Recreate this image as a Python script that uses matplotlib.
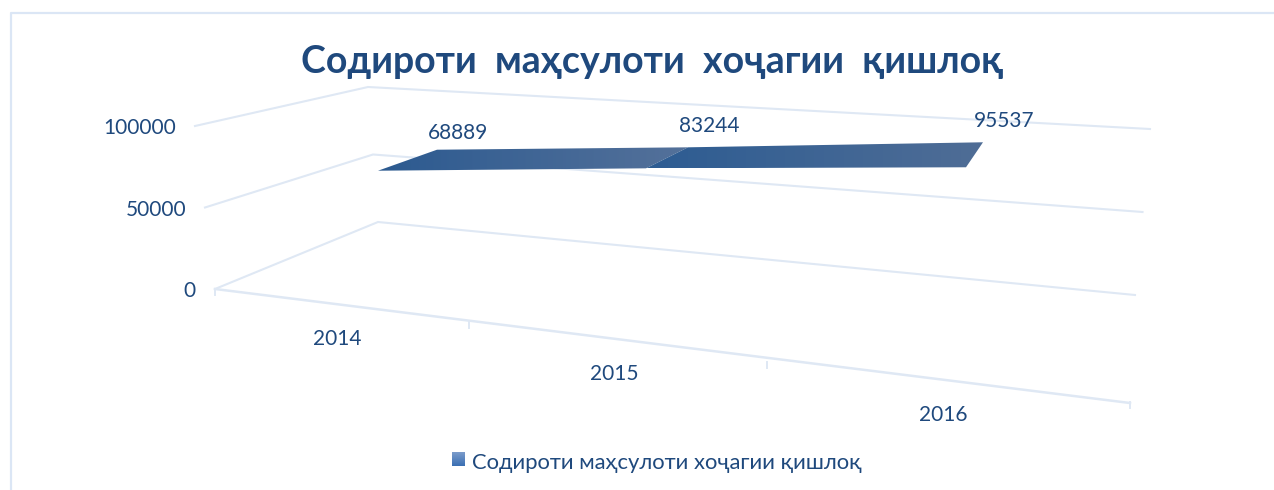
import matplotlib

matplotlib.use("Agg")
import matplotlib.pyplot as plt
import numpy as np
from matplotlib.patches import Polygon

plt.rcParams["font.family"] = ["Lato", "Open Sans", "DejaVu Sans"]

TITLE = "Содироти  маҳсулоти  хоҷагии  қишлоқ"
LEGEND = "Содироти маҳсулоти хоҷагии қишлоқ"
YEARS = ["2014", "2015", "2016"]
VALUES = [68889, 83244, 95537]
Y_TICKS = [0, 50000, 100000]

TEXT_COL = "#1f497d"
GRID_COL = "#dfe8f4"

# fake 3-d projection, pixels
SCALE = 163 / 100000
RIB_X = [378, 646, 966]       # front edge of the ribbon per category
RIB_FLOOR = [283, 304, 323]   # where value 0 would land
RIB_BACK = [(59, -21), (42, -21), (17, -25)]  # depth offset of the back edge
LABEL_LIFT = [17, 21, 21]     # data labels above the back edge


def wall(v):
    """Gridline for value v: front-left, back-left, right end."""
    f = v / 100000
    return [(215 - 20 * f, 289 - 163 * f),
            (378 - 10 * f, 222 - 135 * f),
            (1135 + 15 * f, 295 - 166 * f)]


def ribbon(i):
    x0, y0 = RIB_X[i], RIB_FLOOR[i] - VALUES[i] * SCALE
    dx, dy = RIB_BACK[i]
    return (x0, y0), (x0 + dx, y0 + dy)


def gradient_poly(ax, pts, c0, c1, horizontal=True):
    """Polygon filled with a two-colour ramp."""
    pts = np.array(pts)
    c0 = np.array(matplotlib.colors.to_rgb(c0))
    c1 = np.array(matplotlib.colors.to_rgb(c1))
    ramp = np.linspace(0, 1, 64)[:, None] * (c1 - c0) + c0
    img = ramp[None, :, :] if horizontal else ramp[:, None, :]
    extent = (pts[:, 0].min(), pts[:, 0].max(), pts[:, 1].max(), pts[:, 1].min())
    im = ax.imshow(img, extent=extent, aspect="auto", zorder=3, interpolation="bilinear")
    im.set_clip_path(Polygon(pts, closed=True, transform=ax.transData))


fig = plt.figure(figsize=(12.74, 4.9), dpi=100)
ax = fig.add_axes([0, 0, 1, 1])

# frame, open to the right and the bottom
ax.plot([10.5, 10.5, 1274], [490, 13.5, 13.5], color="#dbe6f5", lw=1.6)

# gridlines on the two walls
for v in Y_TICKS:
    pts = np.array(wall(v))
    ax.plot(pts[:, 0], pts[:, 1], color=GRID_COL, lw=1.5, solid_joinstyle="miter")
    ax.text(pts[0, 0] - 19, pts[0, 1] + 2, str(v), color=TEXT_COL, fontsize=15,
            ha="right", va="center")

# category axis with its ticks
ax.plot([215, 1130], [289, 403], color=GRID_COL, lw=1.8)
for x, y in zip([215, 469, 767, 1130], [289, 322, 362, 402]):
    ax.plot([x, x], [y, y + 6], color=GRID_COL, lw=1.4)
for year, x, y in zip(YEARS, [337, 614, 943], [339, 374, 415]):
    ax.text(x, y, year, color=TEXT_COL, fontsize=15, ha="center", va="center")

# ribbon, one gradient piece per segment
for i, (c0, c1) in enumerate([("#2c5a90", "#54719a"), ("#2d5c92", "#4f6d96")]):
    (a, b), (c, d) = ribbon(i), ribbon(i + 1)
    gradient_poly(ax, [a, c, d, b], c0, c1)

for i, v in enumerate(VALUES):
    _, back = ribbon(i)
    ax.text(back[0] + 21, back[1] - LABEL_LIFT[i], str(v), color=TEXT_COL,
            fontsize=15, ha="center", va="center")

ax.text(652, 73, TITLE, color=TEXT_COL, fontsize=27, fontweight="bold",
        ha="center", va="baseline")

# legend
gradient_poly(ax, [(452, 452), (465, 452), (465, 466), (452, 466)],
              "#7c9ccb", "#3a6fb3", horizontal=False)
ax.text(472, 463, LEGEND, color=TEXT_COL, fontsize=15.8, ha="left", va="center")

ax.set_xlim(0, 1274)
ax.set_ylim(490, 0)
ax.axis("off")
fig.savefig("out.png", dpi=100)
